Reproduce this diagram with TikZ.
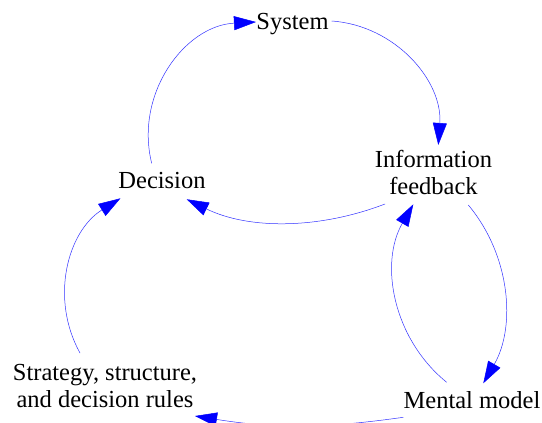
\documentclass[tikz,border=0pt]{standalone}
\usepackage{fontspec}
\setmainfont{Liberation Serif}
\usetikzlibrary{arrows.meta}
\begin{document}
\begin{tikzpicture}[x=1pt,y=1pt,
  lbl/.style={font=\fontsize{24.5}{27.5}\selectfont, inner sep=0pt, anchor=base},
  link/.style={draw=blue!80, line width=0.5pt, -{Triangle[length=22pt,width=14pt,color=blue]}}]
\useasboundingbox[fill=white] (0,0) rectangle (542,-423);
\node[lbl] (sys) at (292.5,-30) {System};
\node[lbl] (dec) at (162,-188) {Decision};
\node[lbl] (info) at (433.5,-167) {\begin{tabular}[t]{@{}c@{}}Information\\feedback\end{tabular}};
\node[lbl] (mm) at (472,-408) {Mental model};
\node[lbl] (str) at (105,-380) {\begin{tabular}[t]{@{}c@{}}Strategy, structure,\\and decision rules\end{tabular}};
% Decision -> System
\draw[link] ([shift={(-10.3,24.7)}]dec.base) to[out=104,in=183,looseness=1.04] ([shift={(-36.5,8)}]sys.base);
% System -> Information feedback
\draw[link] ([shift={(39.2,9)}]sys.base) to[out=-4,in=86] ([shift={(4.8,22)}]info.base);
% Information feedback -> Decision
\draw[link] ([shift={(-48.5,-37)}]info.base) to[out=201,in=-26,looseness=0.9] ([shift={(24.7,-11.3)}]dec.base);
% Mental model -> Information feedback
\draw[link] ([shift={(-25.3,25.7)}]mm.base) to[out=141,in=240,looseness=0.97] ([shift={(-20.2,-37.3)}]info.base);
% Information feedback -> Mental model
\draw[link] ([shift={(34.8,-38)}]info.base) to[out=-50,in=60,looseness=0.94] ([shift={(11.3,24.7)}]mm.base);
% Mental model -> Strategy
\draw[link] ([shift={(-68.7,-9.3)}]mm.base) to[out=188,in=351] ([shift={(90,-36)}]str.base);
% Strategy -> Decision
\draw[link] ([shift={(-25,27)}]str.base) to[out=119,in=212] ([shift={(-41.5,-10.3)}]dec.base);
\end{tikzpicture}
\end{document}
